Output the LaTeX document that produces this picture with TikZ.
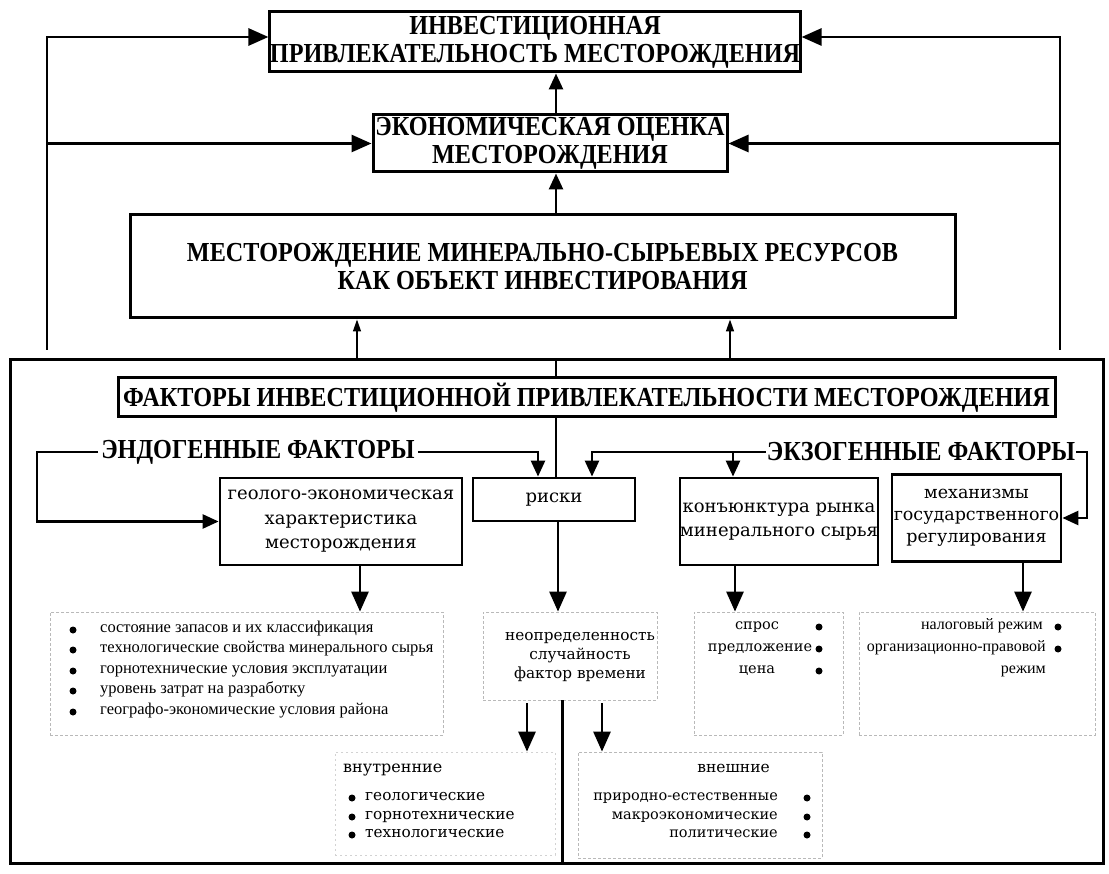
\documentclass[tikz,border=0pt]{standalone}
\usepackage{fontspec}
\setmainfont{Liberation Serif}
\newfontfamily\hdfont[FakeStretch=0.88]{Liberation Serif}
\newfontfamily\dvfont{DejaVu Serif}
\usetikzlibrary{arrows.meta,calc}
\begin{document}
\begin{tikzpicture}[x=1pt,y=-1pt,
  hd/.style={font=\hdfont\bfseries\fontsize{27.5}{28}\selectfont},
  mainbox/.style={draw,line width=3pt,inner sep=0pt,align=center,hd},
  midbox/.style={draw,line width=2.8pt,inner sep=0pt,align=center,font=\dvfont\fontsize{18}{24.5}\selectfont},
  dotbox/.style={draw=gray!55,line width=0.8pt,dash pattern=on 3pt off 2pt},
  faintbox/.style={draw=gray!35,line width=0.7pt,dash pattern=on 2pt off 3pt},
  ln/.style={line width=2.8pt},
  arr/.style={line width=2.8pt,-{Triangle[length=20pt,width=17pt]}},
  arrm/.style={line width=2.6pt,-{Triangle[length=16pt,width=14pt]}},
  arrs/.style={line width=1.4pt,-{Triangle[length=12pt,width=8pt]}},
  lst/.style={font=\fontsize{16.5}{20}\selectfont,inner sep=0pt},
  sm/.style={font=\dvfont\fontsize{14.5}{19}\selectfont,inner sep=0pt},
  smb/.style={font=\dvfont\fontsize{15.3}{19}\selectfont,inner sep=0pt},
  bul/.style={fill=black}
]
\useasboundingbox (0,0) rectangle (1109,874);
\fill[white] (0,0) rectangle (1109,874);

% ---- top boxes
\node[mainbox,minimum width=528pt,minimum height=60pt] (b1) at (535,42)
  {ИНВЕСТИЦИОННАЯ\\ПРИВЛЕКАТЕЛЬНОСТЬ МЕСТОРОЖДЕНИЯ};
\node[mainbox,minimum width=354pt,minimum height=57pt] (b2) at (550,143.5)
  {ЭКОНОМИЧЕСКАЯ ОЦЕНКА\\МЕСТОРОЖДЕНИЯ};
\node[mainbox,minimum width=825pt,minimum height=103pt] (b3) at (542.5,266.5)
  {МЕСТОРОЖДЕНИЕ МИНЕРАЛЬНО-СЫРЬЕВЫХ РЕСУРСОВ\\КАК ОБЪЕКТ ИНВЕСТИРОВАНИЯ};

% big frame
\node[draw,line width=3pt,minimum width=1093pt,minimum height=503pt,inner sep=0pt] (big) at (556.5,611.5) {};

\node[mainbox,minimum width=937pt,minimum height=39pt] (fac) at (586.5,397.5)
  {ФАКТОРЫ ИНВЕСТИЦИОННОЙ ПРИВЛЕКАТЕЛЬНОСТИ МЕСТОРОЖДЕНИЯ};

% ---- outer feedback lines
\coordinate (Lb) at (47,350);
\coordinate (Lt) at (47,37);
\coordinate (Lm) at (47,143.5);
\coordinate (Rb) at (1060,350);
\coordinate (Rt) at (1060,37);
\coordinate (Rm) at (1060,143.5);
\draw[arr] (Lb) -- (Lt) -- (Lt -| b1.west);
\draw[arr] (Rb) -- (Rt) -- (Rt -| b1.east);
\draw[arr] (Lm) -- (b2.west);
\draw[arr] (Rm) -- (b2.east);

% ---- central chain
\coordinate (c0) at (556,0);
\draw[arrm] (b2.north -| c0) -- (b1.south -| c0);
\draw[arrm] (b3.north -| c0) -- (b2.south -| c0);
\coordinate (u1) at (357,0);
\coordinate (u2) at (730,0);
\draw[arrs] (big.north -| u1) -- (b3.south -| u1);
\draw[arrs] (big.north -| u2) -- (b3.south -| u2);
\draw[ln] (big.north -| c0) -- (fac.north -| c0);

% ---- factor boxes
\node[midbox,minimum width=162pt,minimum height=43pt] (risk) at (554,499.5) {риски};
\node[midbox,minimum width=242pt,minimum height=87pt] (geo) at (341,521.5)
  {геолого-экономическая\\характеристика\\месторождения};
\node[midbox,minimum width=196pt,minimum height=87pt] (konj) at (779,521.5)
  {конъюнктура рынка\\минерального сырья};
\node[midbox,minimum width=169pt,minimum height=87pt,font=\dvfont\fontsize{17.5}{22}\selectfont] (reg) at (976.5,518)
  {механизмы\\государственного\\регулирования};
\draw[ln] (fac.south -| c0) -- (risk.north -| c0);

% endogenous / exogenous headings
\node[hd,inner sep=3pt] (endo) at (258,452) {ЭНДОГЕННЫЕ ФАКТОРЫ};
\node[hd,inner sep=1pt] (exo) at (921,452) {ЭКЗОГЕННЫЕ ФАКТОРЫ};

\coordinate (rk1) at (538,452);
\coordinate (rk2) at (592,452);
\coordinate (kj) at (733,452);
\coordinate (bk) at (37,452);
\coordinate (ex) at (1087,452);
\draw[arrm] (endo.east) -- (rk1) -- (rk1 |- risk.north);
\draw[arrm] (exo.west) -- (rk2) -- (rk2 |- risk.north);
\draw[arrm] (kj) -- (kj |- konj.north);
\draw[arrm] (endo.west) -- (bk) |- (geo.west);
\draw[arrm] (exo.east) -- (ex) |- (reg.east);

% ---- lower detail boxes
\node[dotbox,minimum width=393pt,minimum height=123pt,inner sep=0pt] (l1) at (246.5,673.5) {};
\node[dotbox,minimum width=174pt,minimum height=88pt,inner sep=0pt] (unc) at (570,656) {};
\node[dotbox,minimum width=149pt,minimum height=123pt,inner sep=0pt] (sp) at (768.5,673.5) {};
\node[dotbox,minimum width=236pt,minimum height=123pt,inner sep=0pt] (ng) at (977,673.5) {};
\node[faintbox,minimum width=220pt,minimum height=103pt,inner sep=0pt] (vn) at (445,803.5) {};
\node[dotbox,minimum width=244pt,minimum height=106pt,inner sep=0pt] (ve) at (700,805) {};

\coordinate (g1) at (360,0);
\coordinate (rd) at (558,0);
\coordinate (k1) at (735,0);
\coordinate (n1) at (1023,0);
\draw[arr] (geo.south -| g1) -- (l1.north -| g1);
\draw[arr] (risk.south -| rd) -- (unc.north -| rd);
\draw[arr] (konj.south -| k1) -- (sp.north -| k1);
\draw[arr] (reg.south -| n1) -- (ng.north -| n1);

\coordinate (d1) at (527,703);
\coordinate (d2) at (602,703);
\coordinate (sv) at (562,700);
\draw[arr] (d1) -- (d1 |- vn.north);
\draw[arr] (d2) -- (d2 |- ve.north);
\draw[line width=3pt] (sv) -- (sv |- big.south);

% list 1
\foreach \yy/\tt [count=\i] in {630/состояние запасов и их классификация,
  650/технологические свойства минерального сырья,
  671/горнотехнические условия эксплуатации,
  691/уровень затрат на разработку,
  712/географо-экономические условия района}{
  \fill[bul] (73,\yy) circle (3.5pt);
  \node[lst,anchor=mid west] (li\i) at (100,\yy) {\tt};
}

% uncertainty
\node[smb,align=center] (unct) at (580,657)
  {неопределенность\\случайность\\фактор времени};

% spros
\node[sm,anchor=mid] (s1) at (757,627) {спрос};
\node[sm,anchor=mid] (s2) at (760,649) {предложение};
\node[sm,anchor=mid] (s3) at (757,671) {цена};
\foreach \yy in {627,649,671}{\fill[bul] (819,\yy) circle (3.5pt);}

% nalog
\node[lst,font=\fontsize{16}{20}\selectfont,anchor=mid east] (n1t) at (1043,627) {налоговый режим};
\node[lst,font=\fontsize{16}{20}\selectfont,anchor=mid east] (n2t) at (1046,649) {организационно-правовой};
\node[lst,font=\fontsize{16}{20}\selectfont,anchor=mid east] (n3t) at (1046,671) {режим};
\foreach \yy in {627,649}{\fill[bul] (1058,\yy) circle (3.5pt);}

% internal
\node[smb,anchor=mid west,font=\dvfont\fontsize{16}{19}\selectfont] (vt) at (343,770) {внутренние};
\foreach \yy/\tt [count=\i] in {798/геологические,817/горнотехнические,835/технологические}{
  \fill[bul] (352,\yy) circle (3.5pt);
  \node[smb,anchor=mid west] (vi\i) at (365,\yy) {\tt};
}

% external
\node[sm,anchor=mid east,font=\dvfont\fontsize{15.5}{19}\selectfont] (et) at (770,770) {внешние};
\foreach \yy/\tt [count=\i] in {798/природно-естественные,817/макроэкономические,835/политические}{
  \fill[bul] (807,\yy) circle (3.5pt);
  \node[sm,anchor=mid east] (ei\i) at (778,\yy) {\tt};
}
\end{tikzpicture}
\end{document}
